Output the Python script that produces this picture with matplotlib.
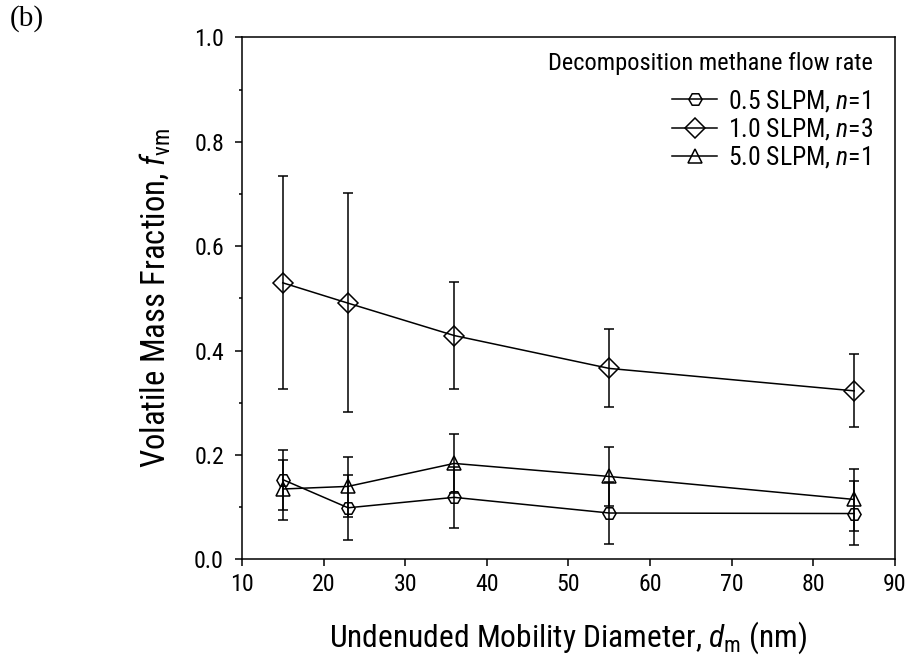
import matplotlib
matplotlib.use("Agg")
import matplotlib.pyplot as plt
from matplotlib import font_manager
from matplotlib.lines import Line2D
import numpy as np

# ---- data ----
diameters = [15, 23, 36, 55, 85]

labels = ["0.5 SLPM, $\\mathit{n}$=1", "1.0 SLPM, $\\mathit{n}$=3", "5.0 SLPM, $\\mathit{n}$=1"]
legend_title = "Decomposition methane flow rate"
markers = ['H', 'D', '^']

f05 = [0.153, 0.099, 0.119, 0.089, 0.088]
f05_lo = [0.094, 0.038, 0.061, 0.029, 0.027]
f05_hi = [0.209, 0.161, 0.177, 0.149, 0.151]

f10 = [0.530, 0.491, 0.429, 0.366, 0.323]
f10_lo = [0.327, 0.282, 0.326, 0.292, 0.254]
f10_hi = [0.735, 0.703, 0.531, 0.442, 0.394]

f50 = [0.135, 0.140, 0.184, 0.159, 0.115]
f50_lo = [0.075, 0.081, 0.127, 0.103, 0.054]
f50_hi = [0.191, 0.197, 0.241, 0.215, 0.174]

xticks = [10, 20, 30, 40, 50, 60, 70, 80, 90]
yticks = [0.0, 0.2, 0.4, 0.6, 0.8, 1.0]
xlabel = "Undenuded Mobility Diameter, $\\mathit{d}_{\\mathrm{m}}$ (nm)"
ylabel = "Volatile Mass Fraction, $\\mathit{f}_{\\mathrm{vm}}$"

# ---- fonts: prefer a narrow sans (reference looks like Arial Narrow) ----
pref = ['Liberation Sans Narrow', 'Arimo Narrow', 'Noto Sans', 'Noto Sans Condensed',
        'Open Sans', 'Open Sans Condensed', 'Roboto Condensed', 'Roboto',
        'DejaVu Sans', 'DejaVu Sans Condensed']
found = {}
for f in font_manager.fontManager.ttflist:
    narrow = (f.stretch in ('condensed', 'semi-condensed', 'extra-condensed')
              or 'Narrow' in f.name or 'Condensed' in f.name)
    if narrow and f.style == 'normal' and f.weight in (400, 'normal', 'regular'):
        found.setdefault(f.name, f.stretch)
fam, stretch = 'Liberation Sans', 'normal'
for p in pref:
    if p in found:
        fam, stretch = p, found[p]
        break

plt.rcParams['font.family'] = [fam, 'DejaVu Sans']
plt.rcParams['font.stretch'] = stretch
plt.rcParams['mathtext.fontset'] = 'custom'
plt.rcParams['mathtext.rm'] = fam
plt.rcParams['mathtext.it'] = fam + ':italic'

series = [(f05, f05_lo, f05_hi), (f10, f10_lo, f10_hi), (f50, f50_lo, f50_hi)]
msizes = [9.5, 10, 10]
lw = 1.1

fig = plt.figure(figsize=(9.09, 6.61), dpi=100)
ax = fig.add_axes([0.2662, 0.1536, 0.7184, 0.7897])
renderer = fig.canvas.get_renderer()


def fitted_size(text, target_px, base=16.0):
    t = fig.text(0, 0, text, fontsize=base)
    bb = t.get_window_extent(renderer)
    t.remove()
    return base * target_px / bb.width


tick_fs = fitted_size("0.6", 30)
lab_fs = fitted_size(xlabel, 480)
ylab_fs = fitted_size(ylabel, 341)
leg_fs = fitted_size(labels[0], 143)
title_fs = fitted_size(legend_title, 326)

handles = []
for (vals, lo, hi), lab, mk, ms in zip(series, labels, markers, msizes):
    vals = np.array(vals); lo = np.array(lo); hi = np.array(hi)
    yerr = np.vstack([vals - lo, hi - vals])
    ax.errorbar(diameters, vals, yerr=yerr, fmt='-', marker=mk, color='black',
                mfc='none', mec='black', ms=ms, mew=lw, lw=lw,
                elinewidth=lw, capsize=3.5, capthick=lw)
    handles.append(Line2D([], [], color='black', lw=lw, marker=mk, ms=ms,
                          mfc='none', mec='black', mew=lw, label=lab))

ax.set_xlim(10, 90)
ax.set_ylim(0, 1.0)
ax.set_xticks(xticks)
ax.set_yticks(yticks)
ax.set_yticks(np.arange(0.1, 1.0, 0.2), minor=True)
ax.yaxis.set_major_formatter(matplotlib.ticker.FormatStrFormatter('%.1f'))
ax.tick_params(axis='both', which='major', direction='out', length=5, width=lw,
               labelsize=tick_fs, top=False, right=False)
ax.tick_params(axis='x', which='major', pad=5)
ax.tick_params(axis='y', which='major', pad=8)
ax.tick_params(axis='y', which='minor', direction='out', length=2.5, width=lw)
for s in ax.spines.values():
    s.set_linewidth(lw)

ax.set_xlabel(xlabel, fontsize=lab_fs, labelpad=17)
ax.set_ylabel(ylabel, fontsize=ylab_fs, labelpad=15)

ax.text(0.966, 0.951, legend_title, transform=ax.transAxes, ha='right', va='center',
        fontsize=title_fs)

# legend: rows ~28 px apart, middle row centred ~128 px from the top
px_per_pt = fig.dpi / 72.0
row_px = 28.5
spacing = 0.3
anchor_y = 0.892
hl = 2.05 * 15.6 / leg_fs
htp = 0.5 * 15.6 / leg_fs
for _ in range(4):
    leg = ax.legend(handles=handles, loc='upper right', bbox_to_anchor=(0.966, anchor_y),
                    frameon=False, fontsize=leg_fs, handlelength=hl, handletextpad=htp,
                    labelspacing=spacing, borderpad=0, borderaxespad=0)
    fig.canvas.draw()
    bbs = [t.get_window_extent(renderer) for t in leg.get_texts()]
    cy = [(b.y0 + b.y1) / 2 for b in bbs]
    cur = (cy[0] - cy[2]) / 2
    spacing += (row_px - cur) / (leg_fs * px_per_pt)
    mid_target = fig.bbox.height - 129
    anchor_y += (mid_target - cy[1]) / ax.bbox.height

leg = ax.legend(handles=handles, loc='upper right', bbox_to_anchor=(0.966, anchor_y),
                frameon=False, fontsize=leg_fs, handlelength=hl, handletextpad=htp,
                labelspacing=spacing, borderpad=0, borderaxespad=0)

fig.text(0.011, 0.992, "(b)", fontsize=21, family='Liberation Serif', va='top', ha='left')

fig.savefig("out.png", dpi=100)
